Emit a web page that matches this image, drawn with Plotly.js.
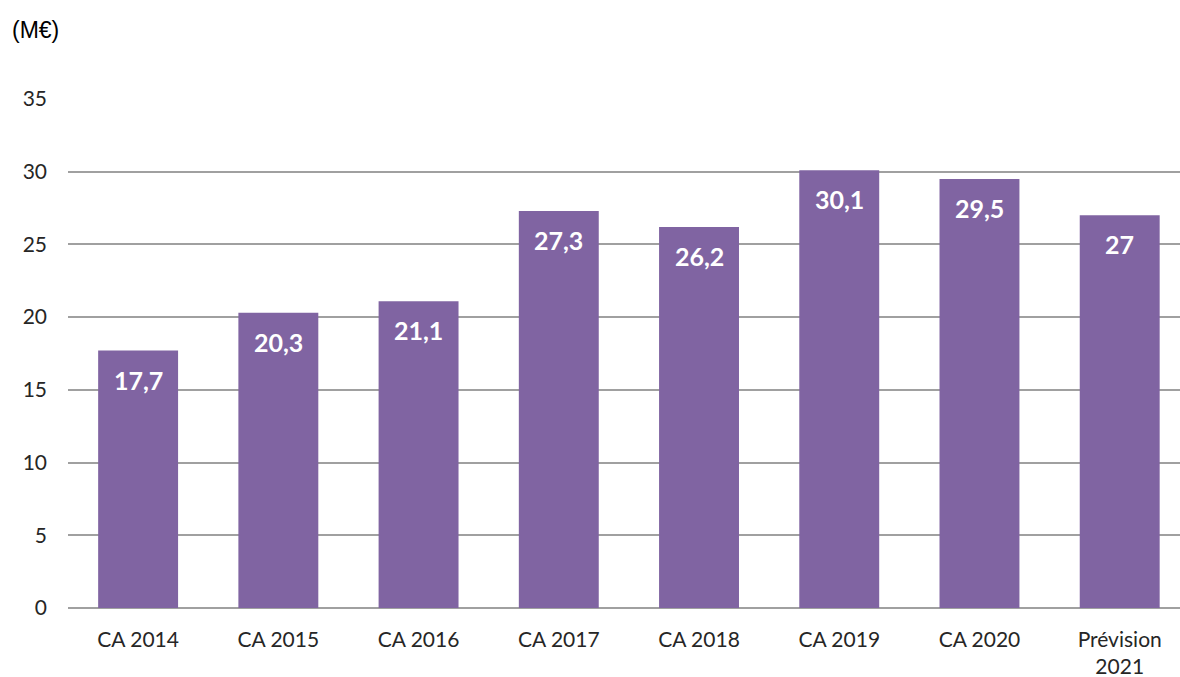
<!DOCTYPE html>
<html><head><meta charset="utf-8">
<script src="https://cdn.plot.ly/plotly-3.0.1.min.js"></script>
<style>body{margin:0;background:#fff}#c{width:1180px;height:677px}</style>
</head><body><div id="c"></div>
<script>
const categories = ["CA 2014","CA 2015","CA 2016","CA 2017","CA 2018","CA 2019","CA 2020","Prévision<br>2021"];
const values = [17.7, 20.3, 21.1, 27.3, 26.2, 30.1, 29.5, 27];
const labels = ["17,7","20,3","21,1","27,3","26,2","30,1","29,5","27"];
const unitLabel = "(M€)";
const yTicks = [0,5,10,15,20,25,30,35];

const trace = {
  type: 'bar', x: categories, y: values,
  marker: {color: '#8064A2'}, width: 0.57, hoverinfo: 'none'
};
const annotations = categories.map((c,i)=>({
  x: c, y: values[i], xref:'x', yref:'y', text: '<b>'+labels[i]+'</b>', showarrow:false,
  yanchor:'middle', yshift:-29, font:{family:'Lato, "Open Sans", sans-serif', size:25, color:'#ffffff'}
}));
annotations.push({xref:'paper', yref:'paper', x:-0.0504, y:1.1356, xanchor:'left', yanchor:'middle', text:unitLabel, showarrow:false,
  font:{family:'"Liberation Sans", Arial, sans-serif', size:23, color:'#000'}, xshift:-2});
const layout = {
  width:1180, height:677, margin:{l:68, r:0, t:99, b:69},
  paper_bgcolor:'#fff', plot_bgcolor:'#fff', showlegend:false,
  xaxis:{type:'category', range:[-0.5, 7.43], showgrid:false, showline:false, zeroline:false, ticks:'',
    tickfont:{family:'Lato, "Open Sans", sans-serif', size:21, color:'#262626'}, ticklabelstandoff:17},
  yaxis:{range:[0,35], tickvals:yTicks, showgrid:true, gridcolor:'#a0a0a0', gridwidth:2, zeroline:true, zerolinecolor:'#a0a0a0', zerolinewidth:2,
    showline:false, ticks:'', tickfont:{family:'Lato, "Open Sans", sans-serif', size:21, color:'#262626'}, ticklabelstandoff:20},
  annotations: annotations, bargap:0.43
};
Plotly.newPlot('c',[trace],layout,{displayModeBar:false, staticPlot:true});
</script></body></html>
